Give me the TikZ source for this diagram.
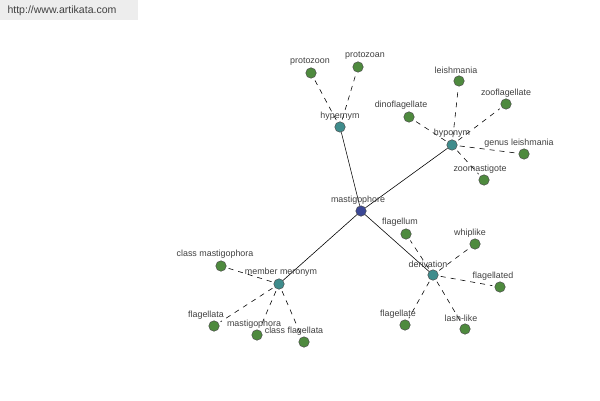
\documentclass[tikz,border=0pt]{standalone}
\usepackage{fontspec}
\setmainfont{Liberation Sans}
\begin{document}
\begin{tikzpicture}[x=0.03cm,y=-0.03cm,
  leaf/.style={circle,draw=black!70,fill=leafgreen,line width=0.4pt,minimum size=10.5*0.03cm,inner sep=0pt},
  hub/.style={circle,draw=black!70,fill=hubteal,line width=0.4pt,minimum size=10.5*0.03cm,inner sep=0pt},
  root/.style={circle,draw=black!70,fill=rootblue,line width=0.4pt,minimum size=10.5*0.03cm,inner sep=0pt},
  lbl/.style={text=black!75,font=\fontsize{7.6}{8}\selectfont,inner sep=0pt},
  dline/.style={dash pattern=on 5*0.03cm off 5*0.03cm,line width=0.5pt,shorten <=2pt,shorten >=2pt},
  sline/.style={line width=0.5pt}]
\definecolor{leafgreen}{HTML}{4E8A3E}
\definecolor{hubteal}{HTML}{3F8C8C}
\definecolor{rootblue}{HTML}{3C4896}
\useasboundingbox (0,0) rectangle (600,400);
\fill[white] (0,0) rectangle (600,400);
\fill[black!7] (0,0) rectangle (138,20);
\node[text=black!75,font=\fontsize{9}{10}\selectfont,inner sep=0pt] (url) at (62,11) {http://www.artikata.com};
% nodes
\node[root] (m) at (361,211) {};
\node[hub] (hyper) at (340,127) {};
\node[hub] (hypo) at (452,145) {};
\node[hub] (mm) at (279,284) {};
\node[hub] (der) at (433,275) {};
\node[leaf] (pzn) at (311,73) {};
\node[leaf] (pza) at (358,67) {};
\node[leaf] (lei) at (459,81) {};
\node[leaf] (zoof) at (506,104) {};
\node[leaf] (dino) at (409,117) {};
\node[leaf] (gl) at (524,154) {};
\node[leaf] (zoom) at (484,180) {};
\node[leaf] (cm) at (221,266) {};
\node[leaf] (fa) at (214,326) {};
\node[leaf] (ma) at (257,335) {};
\node[leaf] (cf) at (304,342) {};
\node[leaf] (flm) at (406,234) {};
\node[leaf] (wl) at (475,244) {};
\node[leaf] (fld) at (500,287) {};
\node[leaf] (fle) at (405,325) {};
\node[leaf] (ll) at (465,329) {};
% edges
\draw[sline] (m) -- (hyper);
\draw[sline] (m) -- (hypo);
\draw[sline] (m) -- (mm);
\draw[sline] (m) -- (der);
\foreach \a/\b in {hyper/pzn,hyper/pza,hypo/lei,hypo/zoof,hypo/dino,hypo/gl,hypo/zoom,mm/cm,mm/fa,mm/ma,mm/cf,der/flm,der/wl,der/fld,der/fle,der/ll}
  \draw[dline] (\a) -- (\b);
% labels
\node[lbl] (tm) at (358,200) {mastigophore};
\node[lbl] (thyper) at (340,116) {hypernym};
\node[lbl] (thypo) at (452,133) {hyponym};
\node[lbl] (tmm) at (281,272) {member meronym};
\node[lbl] (tder) at (428,264) {derivation};
\node[lbl] (tpzn) at (310,62) {protozoon};
\node[lbl] (tpza) at (365,56) {protozoan};
\node[lbl] (tlei) at (456,70) {leishmania};
\node[lbl] (tzoof) at (506,93) {zooflagellate};
\node[lbl] (tdino) at (401,105) {dinoflagellate};
\node[lbl] (tgl) at (519,143) {genus leishmania};
\node[lbl] (tzoom) at (480,169) {zoomastigote};
\node[lbl] (tcm) at (215,254) {class mastigophora};
\node[lbl] (tfa) at (206,315) {flagellata};
\node[lbl] (tma) at (254,324) {mastigophora};
\node[lbl] (tcf) at (294,331) {class flagellata};
\node[lbl] (tflm) at (400,222) {flagellum};
\node[lbl] (twl) at (470,233) {whiplike};
\node[lbl] (tfld) at (493,276) {flagellated};
\node[lbl] (tfle) at (398,314) {flagellate};
\node[lbl] (tll) at (461,318) {lash-like};
\end{tikzpicture}
\end{document}
